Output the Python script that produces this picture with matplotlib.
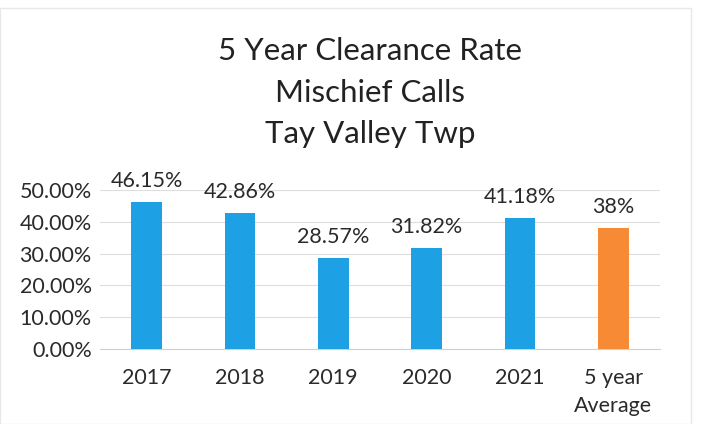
import matplotlib.pyplot as plt
from matplotlib.patches import Rectangle

# dados
categorias = ["2017", "2018", "2019", "2020", "2021", "5 year\nAverage"]
valores = [0.4615, 0.4286, 0.2857, 0.3182, 0.4118, 0.38]
rotulos = ["46.15%", "42.86%", "28.57%", "31.82%", "41.18%", "38%"]
cores = ["#1da1e4"] * 5 + ["#f78a35"]
ticks_y = [0.0, 0.1, 0.2, 0.3, 0.4, 0.5]

plt.rcParams["font.family"] = ["Lato", "DejaVu Sans"]

fig = plt.figure(figsize=(7.02, 4.24), dpi=100)
ax = fig.add_axes([0.1425, 0.177, 0.7975, 0.375])

x = range(len(categorias))
ax.bar(x, valores, width=0.33, color=cores, zorder=3)

for xi, v, r in zip(x, valores, rotulos):
    ax.annotate(r, (xi, v), xytext=(0, 8), textcoords="offset points",
                ha="center", va="bottom", fontsize=15.5, color="#2a2a2a")

ax.set_xlim(-0.5, len(categorias) - 0.5)
ax.set_ylim(0, 0.5)
ax.set_yticks(ticks_y)
ax.set_yticklabels([f"{t*100:.2f}%" for t in ticks_y])
ax.set_xticks(list(x))
ax.set_xticklabels(categorias, linespacing=1.45)
ax.tick_params(axis="both", length=0, labelsize=15.5, colors="#2a2a2a")
ax.tick_params(axis="x", pad=14)
ax.tick_params(axis="y", pad=6)
ax.grid(axis="y", color="#dddddd", linewidth=0.8, zorder=0)
for s in ["top", "right", "left"]:
    ax.spines[s].set_visible(False)
ax.spines["bottom"].set_color("#d0d0d0")

fig.text(0.527, 0.88, "5 Year Clearance Rate", ha="center", va="center", fontsize=22.5, color="#222222")
fig.text(0.527, 0.78, "Mischief Calls", ha="center", va="center", fontsize=22.5, color="#222222")
fig.text(0.527, 0.683, "Tay Valley Twp", ha="center", va="center", fontsize=22.5, color="#222222")

# moldura fraca do gráfico escaneado
fig.patches.append(Rectangle((0.0, 0.0), 0.985, 0.98, transform=fig.transFigure,
                             fill=False, edgecolor="#e8e8e8", linewidth=1))

fig.savefig("out.png", dpi=100, facecolor="white")
